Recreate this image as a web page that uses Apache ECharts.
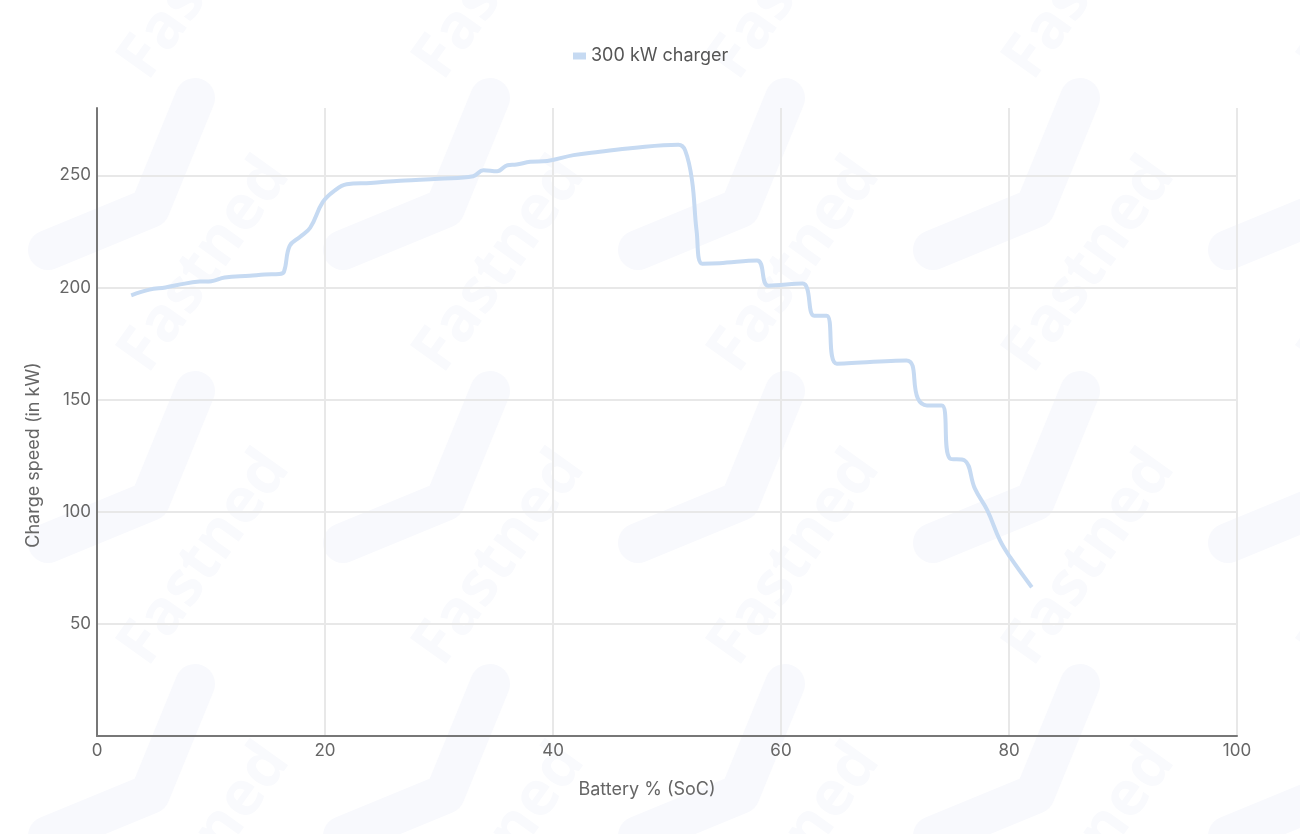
<!DOCTYPE html>
<html>
<head>
  <meta charset="utf-8">
  <title>300 kW charger</title>
  <script src="https://cdn.jsdelivr.net/npm/echarts@6.0.0/dist/echarts.min.js"></script>
  <style>
    html, body { margin: 0; padding: 0; background: #fff; }
    #chart { width: 1300px; height: 834px; }
  </style>
</head>
<body>
  <div id="chart"></div>
  <script>
    // battery % (SoC) and charge speed (kW)
    const soc = [3, 4.6, 6, 7.7, 9, 10, 11.2, 13.4, 14.7, 16, 16.4, 16.9, 17.8, 18.7, 19.8, 20.8, 21.9, 24, 26.6, 28.3, 30, 33, 33.9, 35.1, 36, 36.8, 38, 39.5, 41.8, 44.1, 47, 51, 51.6, 52.2, 52.6, 53.1, 54.6, 57.9, 58.9, 61.9, 62.9, 64, 64.9, 71, 72, 72.8, 74.1, 74.8, 76.1, 77, 78.1, 79.2, 80.1, 82];
    const kw = [196.5, 199, 200, 201.7, 202.6, 202.8, 204.4, 205.2, 205.8, 206, 207, 218.5, 222.5, 226.6, 238, 243, 246, 246.6, 247.6, 248, 248.5, 249.6, 252.3, 251.8, 254.5, 254.8, 256, 256.4, 259, 260.5, 262.2, 263.6, 261, 247.6, 225, 210.6, 210.8, 212, 200.8, 201.7, 187.4, 187.4, 166, 167.4, 150.5, 147.4, 147.4, 123.8, 122.9, 110.4, 100.6, 87.3, 79.7, 66.3];
    const seriesName = '300 kW charger';

    let points = [];
    for (let i = 0; i < soc.length; i++) {
      points.push([soc[i], kw[i]]);
    }

    // faint watermark tile (logo + word), repeated over the background
    function makeTile() {
      const W = 295, H = 293;
      let c = document.createElement('canvas');
      c.width = W; c.height = H;
      let g = c.getContext('2d');
      g.fillStyle = '#fff';
      g.fillRect(0, 0, W, H);
      g.strokeStyle = '#f8f9fd';
      g.lineCap = 'round';
      g.lineJoin = 'round';
      g.lineWidth = 40;
      g.beginPath();
      g.moveTo(195, 98);
      g.lineTo(150, 208);
      g.lineTo(48, 250);
      g.stroke();
      // word, drawn with wrap copies so it is not cut at the tile edge
      g.fillStyle = '#f9fafd';
      g.font = 'bold 62px "Open Sans", sans-serif';
      g.textAlign = 'center';
      g.textBaseline = 'middle';
      [[0, 0], [0, -H], [-W, 0], [-W, -H], [W, 0], [W, -H]].forEach(function (o) {
        g.save();
        g.translate(205 + o[0], 265 + o[1]);
        g.rotate(-0.95);
        g.fillText('Fastned', 0, 0);
        g.restore();
      });
      return c;
    }

    let myChart = echarts.init(document.getElementById('chart'));
    let option = {
      backgroundColor: { image: makeTile(), repeat: 'repeat' },
      textStyle: { fontFamily: 'Inter, sans-serif' },
      legend: {
        top: 42,
        left: 568,
        icon: 'rect',
        itemWidth: 13,
        itemHeight: 7,
        itemGap: 8,
        textStyle: { color: '#555', fontSize: 18 },
        data: [seriesName]
      },
      grid: { left: 97, right: 63, top: 108, bottom: 98 },
      xAxis: {
        type: 'value',
        min: 0,
        max: 100,
        interval: 20,
        name: 'Battery % (SoC)',
        nameLocation: 'middle',
        nameGap: 45,
        nameTextStyle: { color: '#666', fontSize: 18, padding: [0, 40, 0, 0] },
        axisLine: { lineStyle: { color: '#777', width: 2 } },
        axisTick: { show: false },
        axisLabel: { color: '#666', fontSize: 17, margin: 6 },
        splitLine: { show: true, lineStyle: { color: '#e8e8e8', width: 2 } }
      },
      yAxis: {
        type: 'value',
        min: 0,
        max: 280,
        interval: 50,
        name: 'Charge speed (in kW)',
        nameLocation: 'middle',
        nameGap: 54,
        nameTextStyle: { color: '#666', fontSize: 18, padding: [0, 66, 0, 0] },
        axisLine: { show: true, lineStyle: { color: '#777', width: 2 } },
        axisTick: { show: false },
        axisLabel: {
          color: '#666', fontSize: 17, margin: 6,
          showMinLabel: false, showMaxLabel: false,
          formatter: function (v) { return v === 280 ? '' : v; }
        },
        splitLine: {
          show: true,
          lineStyle: {
            color: ['#e8e8e8', '#e8e8e8', '#e8e8e8', '#e8e8e8', '#e8e8e8', '#e8e8e8', 'rgba(0,0,0,0)'],
            width: 2
          }
        }
      },
      series: [
        {
          name: seriesName,
          type: 'line',
          data: points,
          showSymbol: false,
          smooth: 0.4,
          itemStyle: { color: '#c6daf2' },
          lineStyle: { color: '#c6daf2', width: 4 }
        }
      ]
    };
    myChart.setOption(option);
  </script>
</body>
</html>
